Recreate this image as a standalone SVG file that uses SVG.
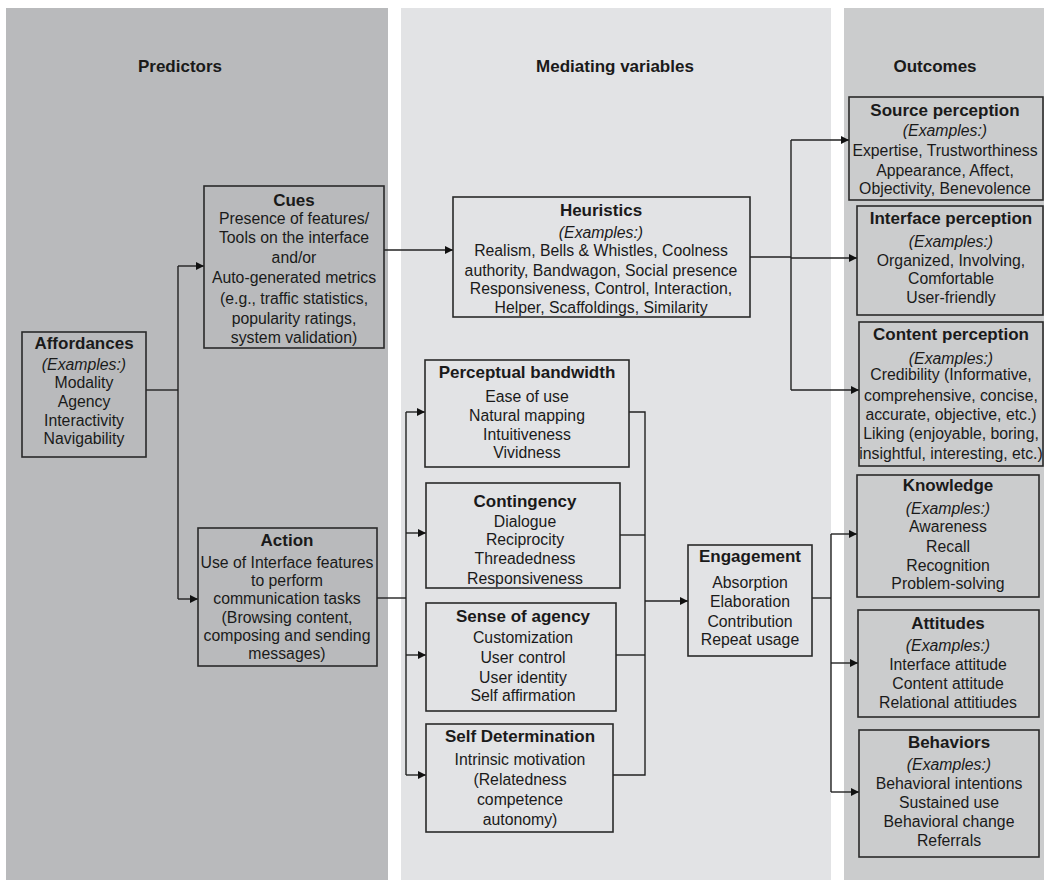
<svg xmlns="http://www.w3.org/2000/svg" width="1044" height="880" viewBox="0 0 1044 880">
<style>
text{font-family:"Liberation Sans",Arial,sans-serif;font-size:15.8px;fill:#1a1a1a;text-anchor:middle}
.h{font-weight:bold;font-size:17px}
.t{font-weight:bold;font-size:17px}
.i{font-style:italic}
.box{fill:none;stroke:#2a2a2a;stroke-width:1.6}
.c{fill:none;stroke:#222;stroke-width:1.4}
</style>
<defs>
<marker id="a" viewBox="0 0 10 10" refX="10" refY="5" markerWidth="8" markerHeight="8" markerUnits="userSpaceOnUse" orient="auto">
<path d="M0,0 L10,5 L0,10 z" fill="#111"/>
</marker>
</defs>
<rect width="1044" height="880" fill="#ffffff"/>
<g id="panels">
<rect x="6" y="8" width="382" height="872" fill="#b9babc"/>
<rect x="401" y="8" width="430" height="872" fill="#e2e3e5"/>
<rect x="844" y="8" width="200" height="872" fill="#cbcccd"/>
<text class="h" x="180" y="72">Predictors</text>
<text class="h" x="615" y="72">Mediating variables</text>
<text class="h" x="935" y="72">Outcomes</text>
</g>
<g id="connectors">
<path class="c" d="M146,390 H178"/>
<path class="c" d="M178,266 V599"/>
<path class="c" d="M178,266 H204" marker-end="url(#a)"/>
<path class="c" d="M178,599 H198" marker-end="url(#a)"/>
<path class="c" d="M384,250 H453" marker-end="url(#a)"/>
<path class="c" d="M750,257 H791"/>
<path class="c" d="M791,140 V390"/>
<path class="c" d="M791,140 H849" marker-end="url(#a)"/>
<path class="c" d="M791,258 H857" marker-end="url(#a)"/>
<path class="c" d="M791,390 H859" marker-end="url(#a)"/>
<path class="c" d="M377,598 H406"/>
<path class="c" d="M406,412 V775"/>
<path class="c" d="M406,412 H425" marker-end="url(#a)"/>
<path class="c" d="M406,533 H426" marker-end="url(#a)"/>
<path class="c" d="M406,655 H426" marker-end="url(#a)"/>
<path class="c" d="M406,775 H426" marker-end="url(#a)"/>
<path class="c" d="M629,412 H645 V775 H613"/>
<path class="c" d="M620,535 H645"/>
<path class="c" d="M616,655 H645"/>
<path class="c" d="M645,601 H688" marker-end="url(#a)"/>
<path class="c" d="M812,598 H831"/>
<path class="c" d="M831,534 V792"/>
<path class="c" d="M831,534 H857" marker-end="url(#a)"/>
<path class="c" d="M831,663 H858" marker-end="url(#a)"/>
<path class="c" d="M831,792 H859" marker-end="url(#a)"/>
</g>
<g id="affordances">
<rect class="box" x="22" y="332" width="124" height="125"/>
<text class="t" x="84" y="349">Affordances</text>
<text class="i" x="84" y="370">(Examples:)</text>
<text x="84" y="388">Modality</text>
<text x="84" y="407">Agency</text>
<text x="84" y="426">Interactivity</text>
<text x="84" y="444">Navigability</text>
</g>
<g id="cues">
<rect class="box" x="204" y="186" width="180" height="162"/>
<text class="t" x="294" y="206">Cues</text>
<text x="294" y="224">Presence of features/</text>
<text x="294" y="243">Tools on the interface</text>
<text x="294" y="263">and/or</text>
<text x="294" y="283">Auto-generated metrics</text>
<text x="294" y="304">(e.g., traffic statistics,</text>
<text x="294" y="324">popularity ratings,</text>
<text x="294" y="343">system validation)</text>
</g>
<g id="action">
<rect class="box" x="198" y="528" width="179" height="138"/>
<text class="t" x="287" y="546">Action</text>
<text x="287" y="568">Use of Interface features</text>
<text x="287" y="586">to perform</text>
<text x="287" y="604">communication tasks</text>
<text x="287" y="623">(Browsing content,</text>
<text x="287" y="641">composing and sending</text>
<text x="287" y="659">messages)</text>
</g>
<g id="heuristics">
<rect class="box" x="453" y="197" width="297" height="120"/>
<text class="t" x="601" y="216">Heuristics</text>
<text class="i" x="601" y="238">(Examples:)</text>
<text x="601" y="256">Realism, Bells &amp; Whistles, Coolness</text>
<text x="601" y="276">authority, Bandwagon, Social presence</text>
<text x="601" y="294">Responsiveness, Control, Interaction,</text>
<text x="601" y="313">Helper, Scaffoldings, Similarity</text>
</g>
<g id="perceptual-bandwidth">
<rect class="box" x="425" y="360" width="204" height="107"/>
<text class="t" x="527" y="378">Perceptual bandwidth</text>
<text x="527" y="402">Ease of use</text>
<text x="527" y="421">Natural mapping</text>
<text x="527" y="440">Intuitiveness</text>
<text x="527" y="458">Vividness</text>
</g>
<g id="contingency">
<rect class="box" x="426" y="483" width="194" height="105"/>
<text class="t" x="525" y="507">Contingency</text>
<text x="525" y="527">Dialogue</text>
<text x="525" y="545">Reciprocity</text>
<text x="525" y="564">Threadedness</text>
<text x="525" y="584">Responsiveness</text>
</g>
<g id="sense-of-agency">
<rect class="box" x="426" y="603" width="190" height="108"/>
<text class="t" x="523" y="622">Sense of agency</text>
<text x="523" y="643">Customization</text>
<text x="523" y="663">User control</text>
<text x="523" y="683">User identity</text>
<text x="523" y="701">Self affirmation</text>
</g>
<g id="self-determination">
<rect class="box" x="426" y="724" width="187" height="108"/>
<text class="t" x="520" y="742">Self Determination</text>
<text x="520" y="765">Intrinsic motivation</text>
<text x="520" y="785">(Relatedness</text>
<text x="520" y="805">competence</text>
<text x="520" y="825">autonomy)</text>
</g>
<g id="engagement">
<rect class="box" x="688" y="545" width="124" height="111"/>
<text class="t" x="750" y="562">Engagement</text>
<text x="750" y="588">Absorption</text>
<text x="750" y="607">Elaboration</text>
<text x="750" y="627">Contribution</text>
<text x="750" y="645">Repeat usage</text>
</g>
<g id="source-perception">
<rect class="box" x="849" y="97" width="194" height="103"/>
<text class="t" x="945" y="116">Source perception</text>
<text class="i" x="945" y="136">(Examples:)</text>
<text x="945" y="156">Expertise, Trustworthiness</text>
<text x="945" y="176">Appearance, Affect,</text>
<text x="945" y="194">Objectivity, Benevolence</text>
</g>
<g id="interface-perception">
<rect class="box" x="857" y="206" width="186" height="109"/>
<text class="t" x="951" y="224">Interface perception</text>
<text class="i" x="951" y="247">(Examples:)</text>
<text x="951" y="266">Organized, Involving,</text>
<text x="951" y="284">Comfortable</text>
<text x="951" y="303">User-friendly</text>
</g>
<g id="content-perception">
<rect class="box" x="859" y="322" width="184" height="144"/>
<text class="t" x="951" y="340">Content perception</text>
<text class="i" x="951" y="364">(Examples:)</text>
<text x="951" y="380">Credibility (Informative,</text>
<text x="951" y="401">comprehensive, concise,</text>
<text x="951" y="420">accurate, objective, etc.)</text>
<text x="951" y="439">Liking (enjoyable, boring,</text>
<text x="951" y="459">insightful, interesting, etc.)</text>
</g>
<g id="knowledge">
<rect class="box" x="857" y="475" width="182" height="122"/>
<text class="t" x="948" y="491">Knowledge</text>
<text class="i" x="948" y="514">(Examples:)</text>
<text x="948" y="532">Awareness</text>
<text x="948" y="552">Recall</text>
<text x="948" y="571">Recognition</text>
<text x="948" y="589">Problem-solving</text>
</g>
<g id="attitudes">
<rect class="box" x="858" y="610" width="181" height="107"/>
<text class="t" x="948" y="629">Attitudes</text>
<text class="i" x="948" y="651">(Examples:)</text>
<text x="948" y="670">Interface attitude</text>
<text x="948" y="689">Content attitude</text>
<text x="948" y="708">Relational attitiudes</text>
</g>
<g id="behaviors">
<rect class="box" x="859" y="730" width="180" height="127"/>
<text class="t" x="949" y="748">Behaviors</text>
<text class="i" x="949" y="770">(Examples:)</text>
<text x="949" y="789">Behavioral intentions</text>
<text x="949" y="808">Sustained use</text>
<text x="949" y="827">Behavioral change</text>
<text x="949" y="846">Referrals</text>
</g>
</svg>
